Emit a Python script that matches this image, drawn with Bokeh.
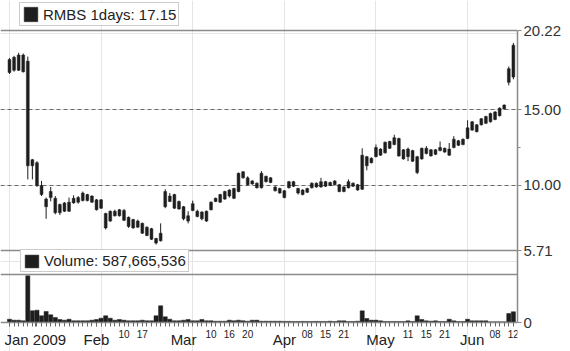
import pandas as pd
from bokeh.plotting import figure
from bokeh.models import (ColumnDataSource, Range1d, LinearAxis, FixedTicker, Grid, Span,
                          Legend, LegendItem, CustomJSTickFormatter)
from bokeh.embed import file_html
from bokeh.resources import INLINE

# ---------------- data ----------------
holidays = ["2009-01-19", "2009-02-16", "2009-04-10", "2009-05-25"]
dates = [d for d in pd.bdate_range("2009-01-05", "2009-06-12")
         if d.strftime("%Y-%m-%d") not in holidays]

opens = [17.45, 17.60, 17.60, 18.60, 18.20, 11.70, 11.50, 10.00, 9.10, 9.20,
         9.15, 8.75, 8.30, 8.30, 8.85, 8.90, 9.00, 9.40, 9.30, 9.05,
         8.50, 8.15, 7.65, 8.00, 8.00, 8.35, 7.90, 7.75, 7.25, 7.50,
         7.25, 7.15, 6.50, 6.35, 8.60, 9.30, 9.40, 8.95, 8.60, 7.65,
         8.35, 8.30, 8.25, 7.65, 8.40, 8.95, 8.90, 9.10, 9.30, 9.80,
         9.60, 10.50, 10.50, 10.30, 10.15, 9.85, 10.60, 10.50, 9.90, 9.80,
         9.65, 9.85, 10.25, 9.80, 9.70, 9.55, 9.85, 10.15, 9.90, 10.25,
         10.00, 10.05, 10.05, 9.90, 9.85, 10.15, 10.05, 9.75, 11.90, 11.50,
         11.90, 12.40, 12.15, 12.45, 12.70, 13.10, 12.35, 11.90, 12.30, 11.90,
         11.75, 12.10, 12.35, 12.05, 12.30, 12.45, 12.40, 12.50, 12.95, 12.70,
         13.10, 13.65, 14.00, 14.00, 14.10, 14.20, 14.35, 14.60, 15.05, 16.80,
         19.25]
highs = [18.40, 18.55, 18.75, 18.70, 18.50, 11.75, 11.60, 10.30, 9.20, 9.90,
         9.30, 8.80, 8.90, 9.20, 9.35, 9.30, 9.60, 9.45, 9.35, 9.10,
         9.10, 8.20, 8.35, 8.40, 8.45, 8.45, 7.95, 7.80, 7.75, 7.55,
         7.30, 7.20, 6.55, 7.50, 9.75, 9.50, 9.45, 9.00, 8.65, 8.30,
         9.00, 8.40, 8.30, 8.35, 8.95, 9.20, 9.45, 9.65, 9.75, 9.85,
         10.85, 10.95, 10.60, 10.35, 10.20, 10.95, 10.65, 10.55, 9.95, 9.85,
         9.70, 10.30, 10.30, 9.85, 9.75, 9.85, 10.20, 10.20, 10.50, 10.30,
         10.25, 10.35, 10.10, 9.95, 10.40, 10.20, 10.10, 12.45, 11.95, 11.85,
         12.70, 12.45, 12.90, 12.95, 13.35, 13.15, 12.40, 12.50, 12.35, 11.95,
         12.50, 12.60, 12.40, 12.40, 12.90, 12.50, 12.80, 13.25, 13.00, 13.10,
         14.30, 14.25, 14.05, 14.45, 14.60, 14.80, 14.90, 15.15, 15.35, 17.85,
         19.40]
lows = [17.35, 17.50, 17.55, 17.45, 10.40, 10.40, 9.90, 9.30, 7.80, 8.95,
        8.10, 8.05, 8.25, 8.25, 8.80, 8.80, 8.95, 8.95, 8.85, 8.35,
        8.45, 7.10, 7.60, 7.95, 7.95, 7.65, 7.20, 7.15, 7.20, 6.80,
        6.65, 6.40, 6.10, 6.30, 8.50, 8.90, 8.45, 8.40, 7.70, 7.50,
        8.30, 7.90, 7.70, 7.60, 8.35, 8.90, 8.85, 9.05, 9.20, 9.10,
        9.55, 10.45, 10.00, 10.05, 9.80, 9.80, 10.20, 10.15, 9.60, 9.45,
        9.15, 9.80, 9.90, 9.40, 9.35, 9.50, 9.80, 9.85, 9.85, 9.90,
        9.95, 10.00, 9.55, 9.55, 9.80, 9.90, 9.65, 9.70, 11.00, 11.45,
        11.85, 11.95, 12.10, 12.40, 12.65, 11.90, 11.70, 11.60, 11.55, 10.75,
        11.70, 12.05, 11.90, 12.00, 12.25, 12.15, 11.95, 12.45, 12.60, 12.65,
        13.05, 13.60, 13.50, 13.95, 14.05, 14.15, 14.30, 14.55, 15.00, 16.60,
        17.00]
closes = [18.30, 18.45, 18.60, 17.50, 11.30, 11.30, 10.00, 9.40, 8.60, 9.60,
          8.20, 8.20, 8.85, 8.90, 9.15, 9.20, 9.50, 9.00, 8.90, 8.40,
          9.05, 7.20, 8.30, 8.30, 8.40, 7.70, 7.30, 7.20, 7.65, 6.85,
          6.70, 6.45, 6.20, 6.85, 9.60, 8.95, 8.50, 8.45, 7.80, 8.00,
          8.80, 7.95, 7.80, 8.30, 8.90, 9.15, 9.40, 9.60, 9.70, 9.15,
          10.80, 10.90, 10.05, 10.10, 9.85, 10.80, 10.25, 10.20, 9.65, 9.50,
          9.20, 10.25, 9.95, 9.50, 9.40, 9.80, 10.15, 9.90, 10.25, 9.95,
          10.20, 10.30, 9.60, 9.60, 10.25, 9.95, 9.70, 12.00, 11.30, 11.80,
          12.50, 12.00, 12.85, 12.90, 13.15, 11.95, 11.75, 12.40, 11.60, 10.85,
          12.45, 12.45, 11.95, 12.35, 12.50, 12.20, 12.00, 13.05, 12.65, 13.05,
          13.80, 14.20, 13.55, 14.40, 14.55, 14.75, 14.85, 15.10, 15.30, 17.70,
          17.15]
volumes = [4.1, 2.9, 2.9, 2.1, 58.4, 14.6, 15.4, 8.4, 13.8, 9.6,
           6.3, 3.8, 2.9, 4.1, 2.1, 2.1, 2.1, 2.1, 2.9, 3.8,
           5.4, 8.4, 5.4, 2.9, 3.8, 2.9, 2.1, 2.1, 2.1, 2.9,
           2.1, 2.1, 8.4, 20.9, 7.1, 4.1, 2.1, 2.1, 2.9, 3.8,
           2.1, 2.1, 3.8, 2.1, 2.1, 1.6, 1.6, 1.6, 2.9, 2.1,
           2.9, 2.1, 1.6, 2.9, 2.9, 1.6, 1.6, 1.6, 1.6, 1.6,
           1.4, 1.4, 1.3, 1.3, 1.4, 1.3, 1.3, 1.4, 1.3, 1.3,
           1.6, 1.3, 2.1, 2.1, 1.3, 1.3, 1.6, 14.6, 5.0, 2.9,
           2.9, 2.1, 1.3, 1.3, 1.3, 1.3, 1.3, 2.1, 1.3, 8.4,
           3.8, 2.1, 1.6, 2.1, 1.3, 1.3, 4.1, 2.1, 1.3, 1.3,
           4.1, 2.1, 2.1, 2.1, 2.1, 0.9, 0.9, 0.9, 0.9, 11.3,
           13.4]  # millions of shares

price_ticks = [5.71, 10.00, 15.00, 20.22]
price_minor_ticks = [12.5]
price_grid = [10.00, 15.00]
volume_max = 60
volume_label = "0"
month_labels = ["Jan 2009", "Feb", "Mar", "Apr", "May", "Jun"]
day_label_dates = ["2009-02-10", "2009-02-17", "2009-03-10", "2009-03-16",
                   "2009-03-20", "2009-04-08", "2009-04-15", "2009-04-21",
                   "2009-05-11", "2009-05-15", "2009-05-21", "2009-06-08",
                   "2009-06-12"]
price_legend = "RMBS 1days: 17.15"
volume_legend = "Volume: 587,665,536"

# ---------------- layout constants (pixels) ----------------
W, H = 570, 351
RIGHT = 53
PRICE_TOP, PRICE_BOT = 30, 250
VOL_TOP, VOL_BOT = 274, 322

n = len(dates)
idx = list(range(n))
date_str = [d.strftime("%Y-%m-%d") for d in dates]
src = ColumnDataSource(dict(
    i=idx, o=opens, h=highs, l=lows, c=closes, v=volumes,
    top=[max(a, b) for a, b in zip(opens, closes)],
    bot=[min(a, b) for a, b in zip(opens, closes)],
))

X_START, X_END = -1.96, 110.9
FONT = "Liberation Sans"
DARK = "#1e1e1e"
GRAY = "#8a8a8a"

p_lo, p_hi = price_ticks[0], price_ticks[-1]
p_per_px = (p_hi - p_lo) / (PRICE_BOT - PRICE_TOP)
y_hi = p_hi + PRICE_TOP * p_per_px
y_lo = p_lo - (H - PRICE_BOT) * p_per_px
price_at = lambda px: y_hi - px * p_per_px

v_per_px = volume_max / (VOL_BOT - VOL_TOP)
v_hi = volume_max + VOL_TOP * v_per_px
v_lo = 0 - (H - VOL_BOT) * v_per_px

base = price_at(VOL_BOT)          # volume zero line, in price coordinates

month_pos = []
for m in range(1, 7):
    first = next(i for i, d in enumerate(dates) if d.month == m)
    month_pos.append(float(first))
month_pos[0] = max(month_pos[0], X_START + 7.6)  # keep first label inside frame
day_pos = [float(date_str.index(s)) for s in day_label_dates]
day_text = [s[-2:] for s in day_label_dates]

p = figure(width=W, height=H,
           x_range=Range1d(X_START, X_END), y_range=Range1d(y_lo, y_hi),
           x_axis_location=None, y_axis_location=None,
           output_backend="svg", toolbar_location=None,
           min_border_left=0, min_border_right=RIGHT, min_border_top=0, min_border_bottom=0)
p.extra_y_ranges = {"vol": Range1d(v_lo, v_hi)}
p.outline_line_color = None
p.background_fill_color = "white"
p.border_fill_color = "white"

p.add_layout(Grid(dimension=1, ticker=FixedTicker(ticks=price_grid),
                  grid_line_color="#6a6a6a", grid_line_dash="4 3", grid_line_width=1))

for loc in (p_lo, p_hi):
    p.add_layout(Span(location=loc, dimension="width", line_color=GRAY, line_width=1.5))
p.add_layout(Span(location=volume_max, dimension="width", y_range_name="vol",
                  line_color=GRAY, line_width=1.5))

p.segment(x0="i", y0="l", x1="i", y1="h", source=src, line_color=DARK, line_width=1)
body = p.vbar(x="i", width=0.62, top="top", bottom="bot", source=src,
              fill_color=DARK, line_color=DARK, line_width=0.5)
vol = p.vbar(x="i", width=0.9, top="v", bottom=0, source=src, y_range_name="vol",
             fill_color=DARK, line_color=DARK, line_width=0.5)

# right axis: price ticks plus the volume zero
ya = LinearAxis(ticker=FixedTicker(ticks=[base] + price_ticks, minor_ticks=price_minor_ticks),
                formatter=CustomJSTickFormatter(
                    args=dict(base=base, zero=volume_label),
                    code="return Math.abs(tick - base) < 1e-6 ? zero : tick.toFixed(2);"),
                bounds=(base, p_hi),
                axis_line_color=GRAY, axis_line_width=1.5,
                major_tick_line_color=GRAY, minor_tick_line_color=GRAY,
                major_tick_in=0, major_tick_out=4, minor_tick_in=0, minor_tick_out=3,
                major_label_standoff=2,
                major_label_text_font=FONT, major_label_text_font_size="15px",
                major_label_text_color="#333333")
p.add_layout(ya, "right")

month_axis = LinearAxis(
    ticker=FixedTicker(ticks=month_pos, minor_ticks=idx), fixed_location=base,
    major_label_overrides={pos: lab for pos, lab in zip(month_pos, month_labels)},
    axis_line_color=GRAY, axis_line_width=1.5,
    major_tick_line_color="#666666", minor_tick_line_color="#666666",
    major_tick_in=0, major_tick_out=4, minor_tick_in=0, minor_tick_out=4,
    major_label_standoff=4,
    major_label_text_font=FONT, major_label_text_font_size="15px",
    major_label_text_color="#222222")
p.add_layout(month_axis, "below")

day_axis = LinearAxis(
    ticker=FixedTicker(ticks=day_pos, minor_ticks=[]), fixed_location=base,
    major_label_overrides={pos: lab for pos, lab in zip(day_pos, day_text)},
    axis_line_color=None, major_tick_line_color=None, minor_tick_line_color=None,
    major_tick_in=0, major_tick_out=0, minor_tick_in=0, minor_tick_out=0,
    major_label_standoff=7,
    major_label_text_font=FONT, major_label_text_font_size="10px",
    major_label_text_color="#222222")
p.add_layout(day_axis, "below")

leg_style = dict(orientation="horizontal", margin=0, padding=2, spacing=0,
                 glyph_width=17, label_standoff=4,
                 label_text_font=FONT, label_text_font_size="15px", label_text_color="#222222",
                 border_line_color="#9a9a9a", border_line_width=1.5,
                 background_fill_color="white", background_fill_alpha=1)
p.add_layout(Legend(items=[LegendItem(label=price_legend, renderers=[body])],
                    location=(19, H - 26), glyph_height=18, label_height=18, **leg_style))
p.add_layout(Legend(items=[LegendItem(label=volume_legend, renderers=[vol])],
                    location=(20, H - 272), glyph_height=16, label_height=16, **leg_style))

open("out.html", "w").write(file_html(p, INLINE))
